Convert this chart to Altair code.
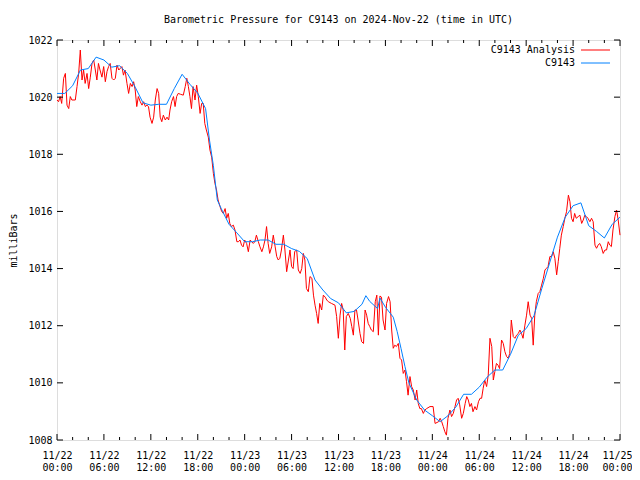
import altair as alt
import pandas as pd

TITLE = "Barometric Pressure for C9143 on 2024-Nov-22 (time in UTC)"
Y_TITLE = "milliBars"
SERIES_NAMES = ["C9143 Analysis", "C9143"]
SERIES_COLORS = ["#ff0000", "#0080ff"]

x_tick_hours = [0, 6, 12, 18, 24, 30, 36, 42, 48, 54, 60, 66, 72]
x_tick_labels = ["11/22|00:00", "11/22|06:00", "11/22|12:00", "11/22|18:00",
                 "11/23|00:00", "11/23|06:00", "11/23|12:00", "11/23|18:00",
                 "11/24|00:00", "11/24|06:00", "11/24|12:00", "11/24|18:00",
                 "11/25|00:00"]
x_minor_hours = [2, 4, 8, 10, 14, 16, 20, 22, 26, 28, 32, 34, 38, 40, 44, 46,
                 50, 52, 56, 58, 62, 64, 68, 70]
y_ticks = [1008, 1010, 1012, 1014, 1016, 1018, 1020, 1022]

# C9143 (station) - hours since 2024-11-22 00:00 UTC, millibars
blue_hours = [0, 1, 2, 3, 4, 5, 6, 7, 8, 9, 10, 11, 12, 13, 14, 15, 16, 17, 18,
              19, 19.5, 20, 20.5, 21, 22, 23, 24, 25, 26, 27, 28, 29, 30, 31, 32,
              33, 34, 35, 36, 37, 38, 39, 39.5, 40, 41, 41.3, 42, 43, 43.5, 44,
              44.5, 45, 46, 47, 48, 49, 50, 51, 52, 53, 54, 55, 56, 57, 58, 59,
              60, 61, 62, 63, 64, 65, 66, 67, 68, 69, 70, 71, 72]
blue_values = [1020.13, 1020.13, 1020.4, 1020.95, 1021.0, 1021.4, 1021.3, 1021.05,
               1021.1, 1020.83, 1020.35, 1019.8, 1019.72, 1019.75, 1019.75, 1020.3,
               1020.8, 1020.45, 1020.14, 1019.6, 1018.5, 1017.6, 1016.4, 1016.1,
               1015.55, 1015.25, 1014.94, 1014.94, 1015.0, 1015.0, 1014.85, 1014.85,
               1014.7, 1014.6, 1014.35, 1013.6, 1013.25, 1012.95, 1012.8, 1012.45,
               1012.5, 1012.75, 1013.05, 1012.85, 1012.6, 1012.97, 1012.65, 1012.3,
               1011.8, 1011.2, 1010.57, 1010.0, 1009.4, 1009.05, 1008.85, 1008.64,
               1008.85, 1009.15, 1009.6, 1009.6, 1009.85, 1010.2, 1010.45, 1010.45,
               1011.0, 1011.67, 1011.9, 1012.35, 1013.3, 1014.2, 1015.1, 1015.8,
               1016.2, 1016.3, 1015.5, 1015.3, 1015.07, 1015.55, 1015.8]

# C9143 Analysis - hours since 2024-11-22 00:00 UTC, millibars
red_hours = [0.0, 0.2, 0.4, 0.6, 0.85, 1.07, 1.28, 1.5, 1.7, 1.9, 2.34, 2.56, 2.77,
             2.98, 3.2, 3.4, 3.6, 3.84, 4.05, 4.26, 4.48, 4.69, 4.9, 5.1, 5.3, 5.5,
             5.75, 5.97, 6.18, 6.4, 6.6, 6.8, 7.03, 7.25, 7.46, 7.67, 7.9, 8.3, 8.5,
             8.7, 8.95, 9.16, 9.38, 9.6, 9.8, 10.0, 10.2, 10.4, 10.65, 10.87, 11.08,
             11.3, 11.5, 11.7, 11.9, 12.15, 12.36, 12.57, 12.8, 13.0, 13.2, 13.4,
             13.6, 13.85, 14.07, 14.28, 14.45, 14.66, 14.9, 15.1, 15.3, 15.5, 15.8,
             16.15, 16.4, 16.6, 16.8, 17.0, 17.2, 17.4, 17.65, 17.86, 18.07, 18.3,
             18.5, 18.7, 18.9, 19.1, 19.35, 19.56, 19.78, 20.0, 20.2, 20.4, 20.6,
             20.85, 21.06, 21.27, 21.5, 21.7, 21.9, 22.1, 22.3, 22.55, 22.76, 23.0,
             23.2, 23.4, 23.6, 23.8, 24.0, 24.25, 24.47, 24.7, 24.9, 25.1, 25.3,
             25.5, 25.75, 25.96, 26.2, 26.4, 26.6, 26.8, 27.0, 27.2, 27.45, 27.66,
             27.9, 28.1, 28.3, 28.5, 28.7, 28.95, 29.15, 29.37, 29.6, 29.8, 30.0,
             30.2, 30.4, 30.65, 30.86, 31.1, 31.3, 31.5, 31.7, 31.9, 32.14, 32.35,
             32.6, 32.8, 33.0, 33.2, 33.4, 33.6, 33.85, 34.06, 34.3, 34.5, 34.7,
             35.1, 35.55, 35.76, 35.98, 36.2, 36.4, 36.6, 36.8, 37.0, 37.25, 37.5,
             37.7, 37.9, 38.1, 38.3, 38.5, 38.75, 38.96, 39.2, 39.4, 39.6, 39.8,
             40.0, 40.2, 40.45, 40.7, 40.9, 41.1, 41.3, 41.5, 41.7, 41.95, 42.15,
             42.4, 42.6, 42.8, 43.0, 43.2, 43.4, 43.65, 43.86, 44.07, 44.28, 44.5,
             44.7, 44.9, 45.14, 45.35, 45.56, 45.8, 46.0, 46.2, 46.4, 46.6, 46.85,
             47.05, 47.27, 47.7, 48.1, 48.35, 48.8, 49.0, 49.2, 49.4, 49.6, 49.8,
             50.0, 50.25, 50.46, 50.68, 50.9, 51.1, 51.3, 51.5, 51.75, 51.96, 52.2,
             52.4, 52.6, 52.8, 53.0, 53.2, 53.45, 53.66, 53.9, 54.1, 54.3, 54.5,
             54.7, 54.94, 55.15, 55.37, 55.6, 55.8, 56.0, 56.2, 56.4, 56.6, 56.85,
             57.07, 57.28, 57.5, 57.7, 57.9, 58.1, 58.35, 58.56, 58.77, 59.0, 59.2,
             59.4, 59.6, 59.84, 60.05, 60.26, 60.5, 60.7, 60.9, 61.1, 61.3, 61.54,
             61.75, 61.97, 62.2, 62.4, 62.6, 62.8, 63.03, 63.25, 63.46, 63.67, 63.9,
             64.1, 64.3, 64.5, 64.74, 64.95, 65.16, 65.4, 65.6, 65.8, 66.0, 66.2,
             66.4, 66.66, 66.87, 67.1, 67.3, 67.5, 67.7, 67.9, 68.15, 68.36, 68.57,
             68.8, 69.0, 69.2, 69.4, 69.6, 69.85, 70.07, 70.28, 70.5, 70.7, 70.9,
             71.1, 71.35, 71.56, 71.77, 72.0]
red_values = [1019.9, 1019.84, 1020.02, 1019.78, 1020.66, 1020.83, 1019.72, 1019.6,
              1020.02, 1019.9, 1019.9, 1020.37, 1020.83, 1021.65, 1020.6, 1020.95,
              1020.48, 1020.83, 1020.3, 1020.7, 1021.18, 1021.3, 1020.95, 1020.6,
              1021.18, 1020.95, 1020.7, 1021.07, 1020.54, 1020.9, 1021.07, 1021.18,
              1020.66, 1020.6, 1020.66, 1021.12, 1020.95, 1021.07, 1020.77, 1020.95,
              1020.48, 1020.13, 1020.48, 1020.37, 1020.54, 1020.25, 1019.67, 1020.02,
              1019.84, 1019.72, 1019.84, 1019.67, 1019.72, 1019.67, 1019.3, 1019.08,
              1019.3, 1019.9, 1020.3, 1020.13, 1019.3, 1019.14, 1019.37, 1019.2,
              1019.3, 1019.2, 1019.55, 1019.84, 1020.02, 1019.67, 1020.02, 1020.13,
              1020.1, 1020.07, 1020.37, 1020.66, 1020.37, 1020.02, 1019.6, 1020.37,
              1019.9, 1020.42, 1020.02, 1019.43, 1019.78, 1019.78, 1019.08, 1018.85,
              1018.6, 1018.15, 1017.9, 1017.33, 1016.98, 1016.75, 1016.4, 1016.17,
              1016.0, 1015.93, 1016.1, 1015.76, 1015.93, 1015.58, 1015.47, 1015.52,
              1015.35, 1014.94, 1014.94, 1015.0, 1014.82, 1014.76, 1015.0, 1014.88,
              1014.59, 1015.0, 1014.94, 1014.88, 1014.94, 1015.17, 1014.94, 1014.76,
              1014.59, 1014.76, 1015.0, 1015.47, 1014.88, 1014.53, 1014.76, 1015.17,
              1014.76, 1014.42, 1014.3, 1014.36, 1014.65, 1015.17, 1014.65, 1013.89,
              1014.3, 1014.65, 1014.07, 1014.0, 1014.6, 1014.65, 1013.95, 1013.83,
              1014.0, 1014.53, 1014.3, 1013.3, 1013.19, 1013.72, 1013.66, 1013.07,
              1012.72, 1012.43, 1012.08, 1012.78, 1012.55, 1013.07, 1013.0, 1012.9,
              1012.84, 1012.78, 1012.72, 1012.32, 1011.56, 1012.37, 1012.78, 1012.55,
              1011.15, 1012.32, 1012.43, 1012.26, 1011.97, 1011.67, 1012.55, 1012.55,
              1012.2, 1011.73, 1011.44, 1011.38, 1012.55, 1012.37, 1012.08, 1011.97,
              1011.85, 1011.79, 1012.84, 1013.07, 1011.67, 1013.04, 1013.0, 1012.2,
              1011.85, 1012.78, 1013.02, 1012.84, 1011.85, 1011.21, 1011.32, 1011.27,
              1011.38, 1010.86, 1010.8, 1010.33, 1010.45, 1010.04, 1009.57, 1010.22,
              1009.87, 1009.75, 1009.4, 1009.75, 1009.28, 1009.1, 1009.1, 1008.93,
              1009.05, 1009.1, 1009.17, 1009.17, 1008.58, 1008.64, 1008.76, 1008.64,
              1008.47, 1008.29, 1008.17, 1008.76, 1009.05, 1008.82, 1008.93, 1009.17,
              1009.4, 1009.46, 1009.23, 1008.76, 1008.93, 1009.28, 1009.52, 1009.4,
              1009.17, 1009.28, 1008.99, 1009.17, 1009.05, 1009.34, 1009.46, 1009.46,
              1009.81, 1010.1, 1009.87, 1010.27, 1011.56, 1011.27, 1010.1, 1010.4,
              1010.68, 1010.62, 1010.5, 1011.5, 1011.38, 1011.09, 1010.92, 1010.86,
              1011.03, 1012.2, 1011.62, 1011.56, 1011.67, 1011.73, 1011.85, 1011.73,
              1011.56, 1012.02, 1012.37, 1012.84, 1012.37, 1012.26, 1011.32, 1012.37,
              1012.84, 1013.13, 1013.19, 1013.42, 1013.66, 1013.95, 1014.01, 1014.07,
              1014.42, 1014.42, 1014.59, 1014.36, 1013.78, 1014.24, 1014.71, 1015.17,
              1015.47, 1015.76, 1015.99, 1016.57, 1016.34, 1015.76, 1015.64, 1015.93,
              1015.76, 1015.82, 1015.87, 1015.58, 1015.7, 1015.87, 1015.82, 1015.76,
              1015.64, 1015.76, 1015.64, 1014.82, 1014.71, 1014.82, 1014.88, 1014.77,
              1014.53, 1014.65, 1014.65, 1014.94, 1014.82, 1014.77, 1015.35, 1015.82,
              1016.05, 1015.7, 1015.17]

FONT = "DejaVu Sans Mono"
W, H = 563, 400
MAJ, MIN = 6, 3

red_df = pd.DataFrame({"h": red_hours, "p": red_values})
blue_df = pd.DataFrame({"h": blue_hours, "p": blue_values})
xmaj_df = pd.DataFrame({"h": x_tick_hours})
xmin_df = pd.DataFrame({"h": x_minor_hours})
y_df = pd.DataFrame({"p": y_ticks})

xscale = alt.Scale(domain=[0, 72], nice=False, zero=False)
yscale = alt.Scale(domain=[1008, 1022], nice=False, zero=False)

labels_js = "[" + ",".join("'" + s + "'" for s in x_tick_labels) + "]"
label_expr = "split(" + labels_js + "[round(datum.value/6)], '|')"

x_axis = alt.Axis(values=x_tick_hours, labelExpr=label_expr, title=None,
                  labelFont=FONT, labelFontSize=10, labelColor="black",
                  labelLineHeight=12, labelPadding=10, ticks=False, domain=False,
                  grid=False, labelFlush=False, labelOverlap=False,
                  labelBaseline="top",
                  labelOffset=alt.ExprRef("datum.value >= 72 ? -3 : 0"))
y_axis = alt.Axis(values=y_ticks, title=Y_TITLE, titleFont=FONT, titleFontSize=10,
                  titleFontWeight="normal", titleColor="black", titleX=-44,
                  titleY=H / 2, titleBaseline="middle", titleAngle=-90,
                  titleAlign="center",
                  labelFont=FONT, labelFontSize=10, labelColor="black",
                  labelPadding=5, ticks=False, domain=False, grid=False,
                  format="d", labelFlush=False)

X = alt.X("h:Q", scale=xscale, axis=x_axis)
Y = alt.Y("p:Q", scale=yscale, axis=y_axis)

blue = alt.Chart(blue_df).mark_line(color=SERIES_COLORS[1], strokeWidth=1).encode(x=X, y=Y)
red = alt.Chart(red_df).mark_line(color=SERIES_COLORS[0], strokeWidth=1).encode(x=X, y=Y)

def xticks(df, length):
    bot = alt.Chart(df).mark_rule(color="black", strokeWidth=1).encode(
        x=X, y=alt.value(H), y2=alt.value(H - length))
    top = alt.Chart(df).mark_rule(color="black", strokeWidth=1).encode(
        x=X, y=alt.value(0), y2=alt.value(length))
    return [bot, top]

yl = alt.Chart(y_df).mark_rule(color="black", strokeWidth=1).encode(
    y=Y, x=alt.value(0), x2=alt.value(MAJ))
yr = alt.Chart(y_df).mark_rule(color="black", strokeWidth=1).encode(
    y=Y, x=alt.value(W - MAJ), x2=alt.value(W))

leg = []
for i, (name, col) in enumerate(zip(SERIES_NAMES, SERIES_COLORS)):
    yy = 10 + 13 * i
    leg.append(alt.Chart(pd.DataFrame({"n": [name]})).mark_text(
        font=FONT, fontSize=10, align="right", baseline="middle", color="black"
    ).encode(text="n:N", x=alt.value(518), y=alt.value(yy)))
    leg.append(alt.Chart(pd.DataFrame({"n": [name]})).mark_rule(
        color=col, strokeWidth=1
    ).encode(x=alt.value(524), x2=alt.value(553), y=alt.value(yy)))

chart = alt.layer(
    red, blue, *xticks(xmaj_df, MAJ), *xticks(xmin_df, MIN), yl, yr, *leg
).properties(
    width=W, height=H,
    title=alt.TitleParams(TITLE, font=FONT, fontSize=10, fontWeight="normal",
                          color="black", anchor="middle", offset=10),
    padding={"left": 49, "top": 32, "right": 12, "bottom": 32},
    autosize=alt.AutoSizeParams(type="none"),
).configure_view(stroke="black", strokeWidth=1).configure(background="white")

chart.save("out.html", embed_options={"renderer": "svg", "actions": False})
